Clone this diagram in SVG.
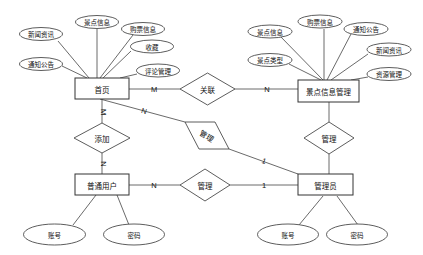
<svg xmlns="http://www.w3.org/2000/svg" width="423" height="255" viewBox="0 0 423 255">
<style>
.bg{fill:#fff}
.box{fill:#fff;stroke:#333;stroke-width:1}
.dia{fill:#fff;stroke:#333;stroke-width:0.8}
.ell{fill:#fff;stroke:#333;stroke-width:0.8}
.ln{stroke:#444;stroke-width:0.8;fill:none}
.t{font-family:"Noto Sans CJK SC","Liberation Sans",sans-serif;fill:#111;text-anchor:middle;dominant-baseline:central}
.tb{font-size:7.5px}
.te{font-size:6.5px}
.tl{font-family:"Liberation Sans",sans-serif;font-size:7.5px;fill:#111;text-anchor:middle;dominant-baseline:central}
</style>
<rect class="bg" width="423" height="255"/>
<g id="connectors">
<line class="ln" x1="58" y1="41" x2="89" y2="78"/>
<line class="ln" x1="97" y1="29" x2="97" y2="78"/>
<line class="ln" x1="133" y1="35" x2="100" y2="78"/>
<line class="ln" x1="131" y1="51" x2="103" y2="78"/>
<line class="ln" x1="62" y1="66" x2="87" y2="78"/>
<line class="ln" x1="137" y1="74" x2="120" y2="78"/>
<line class="ln" x1="279" y1="35" x2="323" y2="80"/>
<line class="ln" x1="324" y1="29" x2="324" y2="80"/>
<line class="ln" x1="351" y1="34" x2="327" y2="80"/>
<line class="ln" x1="289" y1="64" x2="321" y2="80"/>
<line class="ln" x1="368" y1="54" x2="331" y2="80"/>
<line class="ln" x1="368" y1="77" x2="351" y2="80"/>
<line class="ln" x1="129" y1="89" x2="180" y2="89"/>
<line class="ln" x1="235" y1="89" x2="298" y2="89"/>
<line class="ln" x1="102" y1="99" x2="102" y2="123"/>
<line class="ln" x1="102" y1="153" x2="102" y2="174"/>
<line class="ln" x1="100" y1="99" x2="185" y2="122"/>
<line class="ln" x1="229" y1="149" x2="298" y2="174"/>
<line class="ln" x1="329" y1="102" x2="329" y2="122"/>
<line class="ln" x1="329" y1="154" x2="329" y2="174"/>
<line class="ln" x1="129" y1="185" x2="180" y2="185"/>
<line class="ln" x1="230" y1="185" x2="298" y2="185"/>
<line class="ln" x1="96" y1="195" x2="73" y2="225"/>
<line class="ln" x1="117" y1="195" x2="129" y2="225"/>
<line class="ln" x1="323" y1="196" x2="299" y2="225"/>
<line class="ln" x1="337" y1="196" x2="358" y2="225"/>
<text class="tl" x="154" y="89">M</text>
<text class="tl" x="267" y="89">N</text>
<text class="tl" x="103" y="112" transform="rotate(90 103 112)">M</text>
<text class="tl" x="103" y="164" transform="rotate(90 103 164)">N</text>
<text class="tl" x="144" y="111" transform="rotate(16 144 111)">N</text>
<text class="tl" x="264" y="161" transform="rotate(20 264 161)">1</text>
<text class="tl" x="154" y="185">N</text>
<text class="tl" x="264" y="185">1</text>
</g>
<g id="n-shouye"><rect class="box" x="75" y="78" width="54" height="21"/><text class="t tb" x="102" y="89">首页</text></g>
<g id="n-jdxxgl"><rect class="box" x="298" y="80" width="61" height="22"/><text class="t tb" x="328.5" y="91">景点信息管理</text></g>
<g id="n-ptyh"><rect class="box" x="75" y="174" width="54" height="21"/><text class="t tb" x="102" y="185">普通用户</text></g>
<g id="n-gly"><rect class="box" x="298" y="174" width="55" height="21"/><text class="t tb" x="325.5" y="185">管理员</text></g>
<g id="d-guanlian"><polygon class="dia" points="180,89 207.5,73 235,89 207.5,105"/><text class="t tb" x="207.5" y="89">关联</text></g>
<g id="d-tianjia"><polygon class="dia" points="74,138 102,123 130,138 102,153"/><text class="t tb" x="102" y="138">添加</text></g>
<g id="d-guanli-r"><polygon class="dia" points="304,138 329,122 354,138 329,154"/><text class="t tb" x="329" y="138">管理</text></g>
<g id="d-guanli-b"><polygon class="dia" points="180,185 205,169 230,185 205,201"/><text class="t tb" x="205" y="185">管理</text></g>
<g id="d-guanli-m"><polygon class="dia" points="185,122 215,122 229,149 199,149"/><text class="t tb" x="207" y="135.5" transform="rotate(32 207 135.5)">管理</text></g>
<g id="e-l-xwzx"><ellipse class="ell" cx="41" cy="34" rx="21.5" ry="6.5"/><text class="t te" x="41" y="34">新闻资讯</text></g>
<g id="e-l-jdxx"><ellipse class="ell" cx="97" cy="22" rx="21.5" ry="6.5"/><text class="t te" x="97" y="22">景点信息</text></g>
<g id="e-l-gpxx"><ellipse class="ell" cx="143" cy="29" rx="21.5" ry="6.5"/><text class="t te" x="143" y="29">购票信息</text></g>
<g id="e-l-sc"><ellipse class="ell" cx="152" cy="46.5" rx="21.5" ry="6.5"/><text class="t te" x="152" y="46.5">收藏</text></g>
<g id="e-l-tzgg"><ellipse class="ell" cx="41" cy="64" rx="21.5" ry="6.5"/><text class="t te" x="41" y="64">通知公告</text></g>
<g id="e-l-plgl"><ellipse class="ell" cx="158" cy="70.5" rx="21.5" ry="6.5"/><text class="t te" x="158" y="70.5">评论管理</text></g>
<g id="e-r-jdxx"><ellipse class="ell" cx="270" cy="31.5" rx="22" ry="6.5"/><text class="t te" x="270" y="31.5">景点信息</text></g>
<g id="e-r-gpxx"><ellipse class="ell" cx="320" cy="21.5" rx="22" ry="6.5"/><text class="t te" x="320" y="21.5">购票信息</text></g>
<g id="e-r-tzgg"><ellipse class="ell" cx="366" cy="29" rx="22" ry="6.5"/><text class="t te" x="366" y="29">通知公告</text></g>
<g id="e-r-jdlx"><ellipse class="ell" cx="270" cy="60" rx="22" ry="6.5"/><text class="t te" x="270" y="60">景点类型</text></g>
<g id="e-r-xwzx"><ellipse class="ell" cx="389" cy="49.5" rx="22" ry="6.5"/><text class="t te" x="389" y="49.5">新闻资讯</text></g>
<g id="e-r-zygl"><ellipse class="ell" cx="389" cy="74" rx="22" ry="6.5"/><text class="t te" x="389" y="74">资源管理</text></g>
<g id="e-u-zh"><ellipse class="ell" cx="54.5" cy="234.5" rx="31" ry="10.5"/><text class="t te" x="54.5" y="234.5">账号</text></g>
<g id="e-u-mm"><ellipse class="ell" cx="134" cy="234.5" rx="30.5" ry="10.5"/><text class="t te" x="134" y="234.5">密码</text></g>
<g id="e-a-zh"><ellipse class="ell" cx="288" cy="234.5" rx="30.5" ry="10.5"/><text class="t te" x="288" y="234.5">账号</text></g>
<g id="e-a-mm"><ellipse class="ell" cx="357" cy="234.5" rx="30.5" ry="10.5"/><text class="t te" x="357" y="234.5">密码</text></g>
</svg>
